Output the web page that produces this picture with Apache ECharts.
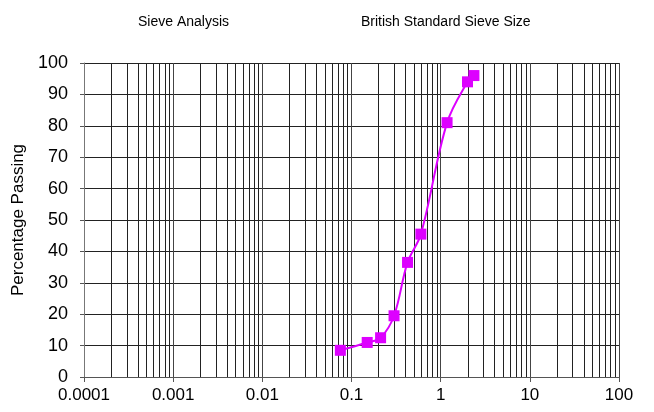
<!DOCTYPE html>
<html><head><meta charset="utf-8">
<script src="https://cdn.jsdelivr.net/npm/echarts@6/dist/echarts.min.js"></script>
<style>html,body{margin:0;padding:0;background:#fff}#c{width:654px;height:412px}</style>
</head><body><div id="c"></div>
<script>
const sieveSizes = [0.075, 0.15, 0.212, 0.3, 0.425, 0.6, 1.18, 2.0, 2.36];
const percentPassing = [8.5, 11, 12.5, 19.5, 36.5, 45.5, 81, 94, 96];
const xTickLabels = ['0.0001', '0.001', '0.01', '0.1', '1', '10', '100'];
const xMin = 0.0001, xMax = 100;

const minorValues = [];
for (let d = -4; d <= 1; d++) {
  for (let k = 2; k <= 9; k++) minorValues.push(k * Math.pow(10, d));
}

const font = '"Liberation Sans", Arial, sans-serif';

const chart = echarts.init(document.getElementById('c'));
chart.setOption({
  animation: false,
  title: [
    { text: 'Sieve Analysis', left: 133, top: 10, textStyle: { fontFamily: font, fontSize: 14, fontWeight: 'normal', color: '#000' } },
    { text: 'British Standard Sieve Size', left: 356, top: 10, textStyle: { fontFamily: font, fontSize: 14, fontWeight: 'normal', color: '#000' } }
  ],
  grid: { left: 84, right: 35, top: 63, bottom: 35 },
  xAxis: {
    type: 'log', logBase: 10, min: xMin, max: xMax,
    axisLine: { show: true, onZero: false, lineStyle: { color: '#555', width: 1 } },
    axisTick: { show: true, length: 5, lineStyle: { color: '#555' } },
    axisLabel: {
      fontFamily: font, fontSize: 17, color: '#000', margin: 10,
      formatter: v => xTickLabels[Math.round(Math.log10(v)) + 4]
    },
    splitLine: { show: true, lineStyle: { color: '#444', width: 1 } }
  },
  yAxis: {
    type: 'value', min: 0, max: 100, interval: 10,
    name: 'Percentage Passing', nameLocation: 'middle', nameGap: 57,
    nameTextStyle: { fontFamily: font, fontSize: 17, color: '#000' },
    axisLine: { show: true, lineStyle: { color: '#777', width: 1 } },
    axisTick: { show: true, length: 4, lineStyle: { color: '#555' } },
    axisLabel: { fontFamily: font, fontSize: 18, color: '#000', margin: 16 },
    splitLine: { show: true, lineStyle: { color: '#222', width: 1 } }
  },
  series: [
    {
      type: 'custom', silent: true, z: 1,
      data: minorValues,
      encode: { x: 0 },
      renderItem: (params, api) => {
        const v = api.value(0);
        const p0 = api.coord([v, 0]);
        const p1 = api.coord([v, 100]);
        return {
          type: 'line',
          shape: { x1: Math.round(p0[0]) + 0.5, y1: p0[1], x2: Math.round(p0[0]) + 0.5, y2: p1[1] },
          style: { stroke: '#222', lineWidth: 1 }
        };
      }
    },
    {
      type: 'line',
      data: sieveSizes.map((s, i) => [s, percentPassing[i]]),
      smooth: 0.35,
      symbol: 'rect', symbolSize: 11,
      lineStyle: { color: '#dd00ff', width: 2 },
      itemStyle: { color: '#dd00ff' },
      z: 5
    }
  ]
});
</script></body></html>
